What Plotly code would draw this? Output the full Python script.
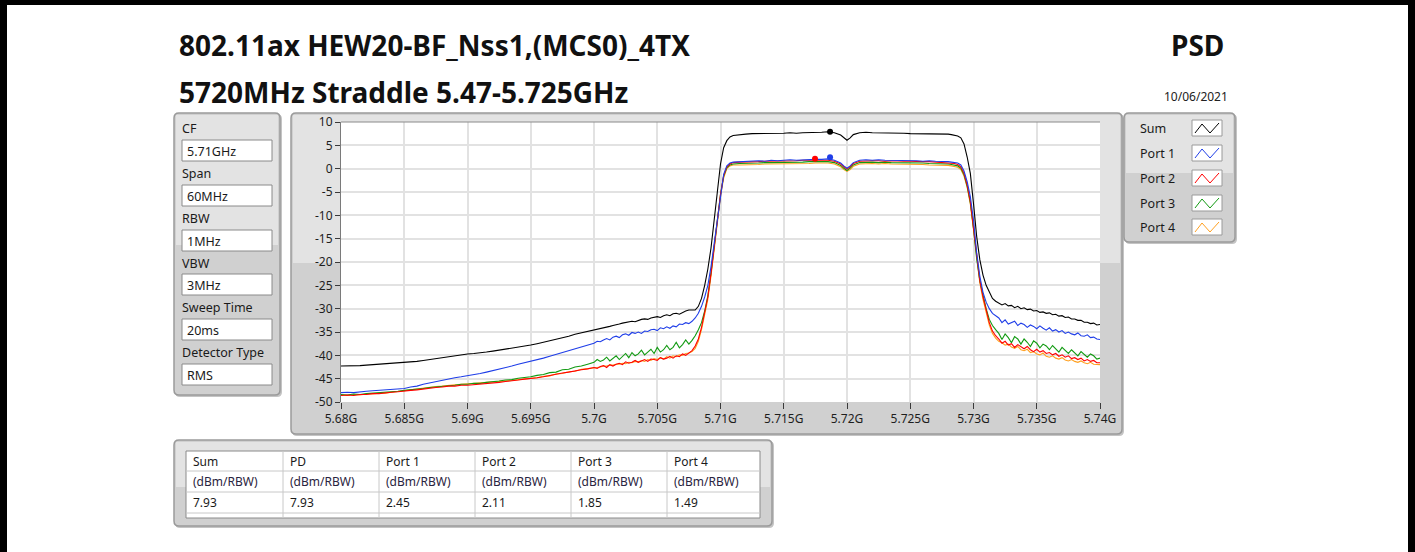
import plotly.graph_objects as go

# ---------------- data ----------------
freq_mhz = [
    5680, 5680.5, 5681, 5681.5, 5682, 5682.5, 5683, 5683.5, 5684, 5684.5,
    5685, 5685.5, 5686, 5686.5, 5687, 5687.5, 5688, 5688.5, 5689, 5689.5,
    5690, 5690.5, 5691, 5691.5, 5692, 5692.5, 5693, 5693.5, 5694, 5694.5,
    5695, 5695.5, 5696, 5696.5, 5697, 5697.5, 5698, 5698.5, 5699, 5699.5,
    5700, 5700.25, 5700.5, 5700.75, 5701, 5701.25, 5701.5, 5701.75,
    5702, 5702.25, 5702.5, 5702.75, 5703, 5703.25, 5703.5, 5703.75,
    5704, 5704.25, 5704.5, 5704.75, 5705, 5705.25, 5705.5, 5705.75,
    5706, 5706.25, 5706.5, 5706.75, 5707, 5707.25, 5707.5, 5707.75,
    5708, 5708.25, 5708.5, 5708.75, 5709, 5709.25, 5709.5, 5709.75,
    5710, 5710.25, 5710.5, 5710.75, 5711, 5711.5,
    5712, 5712.5, 5713, 5713.5, 5714, 5714.5, 5715, 5715.5, 5716, 5716.5,
    5717, 5717.5, 5718, 5718.5, 5719, 5719.5, 5719.75, 5720, 5720.25, 5720.5,
    5721, 5721.5, 5722, 5722.5, 5723, 5723.5, 5724, 5724.5, 5725, 5725.5,
    5726, 5726.5, 5727, 5727.5,
    5728, 5728.25, 5728.5, 5728.75, 5729, 5729.25, 5729.5, 5729.75,
    5730, 5730.25, 5730.5, 5730.75, 5731, 5731.25, 5731.5, 5731.75,
    5732, 5732.25, 5732.5, 5732.75, 5733, 5733.25, 5733.5, 5733.75,
    5734, 5734.25, 5734.5, 5734.75, 5735, 5735.25, 5735.5, 5735.75,
    5736, 5736.25, 5736.5, 5736.75, 5737, 5737.25, 5737.5, 5737.75,
    5738, 5738.25, 5738.5, 5738.75, 5739, 5739.25, 5739.5, 5739.75, 5740,
]

sum_dbm = [
    -42.3, -42.3, -42.2, -42.2, -42.1, -42.0, -41.9, -41.9, -41.8, -41.7,
    -41.6, -41.4, -41.3, -41.1, -40.9, -40.7, -40.5, -40.3, -40.1, -39.8,
    -39.7, -39.6, -39.5, -39.3, -39.1, -38.9, -38.7, -38.5, -38.2, -38.0,
    -37.8, -37.5, -37.2, -36.9, -36.6, -36.2, -35.9, -35.5, -35.2, -34.9,
    -34.7, -34.5, -34.3, -34.2, -34.0, -33.8, -33.6, -33.5,
    -33.3, -33.1, -33.0, -32.8, -32.7, -32.8, -32.5, -32.3,
    -32.2, -32.3, -32.0, -31.8, -31.7, -31.9, -31.5, -31.3,
    -31.5, -31.1, -31.0, -31.2, -30.8, -30.5, -30.3, -30.3,
    -30.3, -29.5, -27.8, -25.0, -21.5, -17.0, -11.5, -5.0,
    1.0, 4.5, 6.0, 6.8, 7.1, 7.3,
    7.4, 7.5, 7.5, 7.5, 7.6, 7.6, 7.6, 7.7, 7.6, 7.7,
    7.7, 7.8, 7.8, 7.9, 7.7, 7.2, 6.6, 6.1, 6.6, 7.3,
    7.7, 7.8, 7.7, 7.7, 7.6, 7.7, 7.6, 7.6, 7.5, 7.5,
    7.5, 7.4, 7.5, 7.4,
    7.4, 7.3, 7.2, 7.0, 6.6, 5.3, 2.5, -1.0,
    -7.5, -14.5, -19.5, -22.8, -25.0, -26.6, -27.8, -28.4,
    -28.8, -29.2, -28.9, -29.4, -29.3, -29.8, -29.5, -30.0,
    -29.8, -30.2, -30.1, -30.5, -30.4, -30.8, -30.7, -31.0,
    -30.9, -31.3, -31.2, -31.6, -31.5, -31.9, -31.8, -32.2,
    -32.2, -32.5, -32.5, -32.9, -32.9, -33.2, -33.1, -33.5, -33.4,
]

port1_dbm = [
    -48.0, -47.9, -48.0, -47.8, -47.7, -47.6, -47.5, -47.4, -47.3, -47.2,
    -47.1, -46.8, -46.6, -46.2, -45.9, -45.6, -45.3, -45.0, -44.8, -44.6,
    -44.4, -44.1, -43.9, -43.6, -43.3, -42.9, -42.6, -42.3, -41.9, -41.6,
    -41.3, -41.0, -40.6, -40.2, -39.8, -39.4, -39.0, -38.6, -38.2, -37.8,
    -37.4, -37.0, -37.1, -36.7, -36.4, -36.7, -36.1, -35.9,
    -36.2, -35.6, -35.4, -35.7, -35.1, -35.3, -35.0, -35.3,
    -34.8, -34.9, -34.5, -34.4, -34.7, -34.1, -34.3, -33.9,
    -34.2, -33.7, -33.9, -33.3, -33.4, -33.0, -33.2, -32.7,
    -32.0, -31.0, -29.5, -27.5, -25.0, -21.0, -16.0, -10.0,
    -5.0, -1.2, 0.6, 1.2, 1.4, 1.5,
    1.5, 1.6, 1.7, 1.6, 1.8, 1.7, 1.8, 1.9, 1.8, 1.9,
    1.9, 2.0, 2.0, 2.1, 1.8, 1.2, 0.6, 0.1, 0.6, 1.3,
    1.8, 1.9, 1.8, 1.9, 1.8, 1.8, 1.7, 1.8, 1.7, 1.7,
    1.6, 1.7, 1.6, 1.6,
    1.5, 1.4, 1.3, 1.2, 0.8, -0.5, -2.8, -6.0,
    -11.0, -18.0, -23.0, -26.5, -28.6, -30.0, -31.0, -31.6,
    -32.0, -33.0, -32.4, -33.3, -33.0, -32.7, -33.6, -33.1,
    -33.4, -34.0, -33.5, -33.8, -34.3, -33.7, -34.2, -34.6,
    -34.1, -34.8, -34.5, -35.0, -34.7, -35.3, -35.0, -35.4,
    -35.6, -35.2, -35.8, -35.9, -35.6, -36.2, -36.1, -36.5, -36.6,
]

port2_dbm = [
    -48.6, -48.5, -48.6, -48.4, -48.4, -48.2, -48.2, -48.0, -47.9, -47.8,
    -47.6, -47.5, -47.4, -47.2, -47.1, -46.9, -46.8, -46.6, -46.6, -46.4,
    -46.4, -46.3, -46.2, -46.0, -45.9, -45.8, -45.6, -45.5, -45.3, -45.1,
    -45.0, -44.8, -44.6, -44.3, -44.1, -43.8, -43.6, -43.3, -43.1, -42.9,
    -42.6, -42.8, -42.4, -42.2, -42.6, -42.0, -42.3, -41.9,
    -41.7, -42.0, -41.4, -41.7, -41.5, -41.1, -41.5, -41.2,
    -40.9, -41.3, -40.8, -40.9, -41.1, -40.5, -40.8, -40.6,
    -40.2, -40.6, -40.1, -40.3, -39.7, -40.0, -39.4, -39.0,
    -38.0, -36.5, -34.0, -31.0, -27.5, -22.5, -17.0, -11.5,
    -5.5, -1.5, 0.4, 1.0, 1.3, 1.4,
    1.4, 1.5, 1.5, 1.6, 1.6, 1.6, 1.7, 1.7, 1.7, 1.8,
    1.8, 1.9, 1.8, 1.8, 1.6, 1.0, 0.4, -0.1, 0.4, 1.1,
    1.6, 1.7, 1.7, 1.7, 1.6, 1.7, 1.6, 1.6, 1.6, 1.5,
    1.5, 1.5, 1.4, 1.4,
    1.3, 1.2, 1.1, 0.9, 0.4, -1.0, -3.5, -7.0,
    -12.5, -19.0, -24.0, -27.5, -30.5, -33.0, -34.8, -35.8,
    -36.5, -37.4, -37.0, -37.8, -37.5, -38.3, -37.7, -38.2,
    -38.6, -38.1, -38.8, -39.2, -38.7, -39.3, -39.0, -39.6,
    -39.4, -39.9, -39.6, -40.2, -39.9, -40.4, -40.1, -40.7,
    -40.5, -40.9, -40.6, -41.2, -40.9, -41.3, -41.1, -41.6, -41.6,
]

port3_dbm = [
    -48.4, -48.5, -48.3, -48.4, -48.2, -48.1, -48.1, -47.9, -47.8, -47.7,
    -47.5, -47.4, -47.2, -47.1, -46.9, -46.8, -46.6, -46.5, -46.4, -46.2,
    -46.2, -46.0, -46.0, -45.8, -45.7, -45.5, -45.3, -45.2, -44.9, -44.8,
    -44.6, -44.3, -44.1, -43.7, -43.6, -43.1, -43.0, -42.5, -42.3, -41.9,
    -41.5, -40.9, -41.3, -41.0, -40.4, -41.2, -40.6, -40.1,
    -40.9, -40.3, -39.6, -40.5, -39.4, -40.1, -39.7, -38.9,
    -39.9, -39.3, -38.7, -39.6, -38.3, -39.3, -38.8, -37.9,
    -38.8, -38.3, -37.2, -38.4, -37.7, -36.7, -37.6, -36.8,
    -35.8, -34.5, -33.0, -30.5, -27.2, -22.3, -16.8, -11.2,
    -5.5, -1.6, 0.2, 0.8, 1.0, 1.1,
    1.1, 1.2, 1.2, 1.3, 1.3, 1.3, 1.4, 1.3, 1.4, 1.4,
    1.5, 1.5, 1.5, 1.5, 1.3, 0.7, 0.1, -0.4, 0.1, 0.8,
    1.3, 1.4, 1.4, 1.3, 1.4, 1.3, 1.3, 1.3, 1.2, 1.2,
    1.2, 1.1, 1.1, 1.0,
    1.0, 0.9, 0.8, 0.6, 0.1, -1.3, -3.8, -7.3,
    -12.8, -19.3, -24.0, -27.3, -30.0, -32.3, -33.6, -34.5,
    -35.3, -36.6, -35.4, -36.2, -37.3, -36.0, -36.5, -37.6,
    -36.5, -37.2, -38.1, -36.9, -37.4, -38.4, -37.6, -38.0,
    -38.8, -37.9, -38.6, -39.3, -38.3, -39.0, -39.6, -38.8,
    -39.4, -40.1, -39.2, -39.8, -40.4, -39.7, -40.1, -40.8, -40.6,
]

port4_dbm = [
    -48.5, -48.6, -48.4, -48.5, -48.3, -48.3, -48.1, -48.1, -47.9, -47.8,
    -47.6, -47.4, -47.2, -47.0, -46.9, -46.7, -46.6, -46.4, -46.3, -46.2,
    -46.1, -46.1, -45.9, -45.9, -45.7, -45.7, -45.5, -45.4, -45.2, -45.1,
    -44.9, -44.8, -44.5, -44.4, -44.0, -43.9, -43.5, -43.4, -43.0, -42.9,
    -42.7, -42.6, -42.5, -42.3, -42.3, -42.1, -42.1, -41.9,
    -41.9, -41.7, -41.8, -41.5, -41.6, -41.3, -41.4, -41.1,
    -41.3, -40.9, -41.1, -40.7, -40.9, -40.5, -40.8, -40.3,
    -40.6, -40.1, -40.3, -39.9, -40.0, -39.6, -39.5, -39.2,
    -38.5, -37.0, -34.5, -31.5, -28.0, -23.0, -17.5, -12.0,
    -6.0, -2.0, 0.0, 0.6, 0.8, 0.8,
    0.8, 0.9, 0.9, 1.0, 1.0, 1.0, 1.1, 1.0, 1.1, 1.1,
    1.1, 1.2, 1.2, 1.2, 1.0, 0.4, -0.2, -0.6, -0.2, 0.5,
    1.0, 1.1, 1.1, 1.0, 1.1, 1.0, 1.0, 1.0, 0.9, 0.9,
    0.9, 0.8, 0.8, 0.7,
    0.7, 0.6, 0.5, 0.3, -0.2, -1.6, -4.0, -7.6,
    -13.0, -19.5, -24.5, -28.0, -31.0, -33.5, -35.3, -36.3,
    -37.0, -37.3, -37.8, -37.6, -38.2, -38.5, -38.1, -38.8,
    -39.0, -38.7, -39.4, -39.2, -39.7, -39.9, -39.5, -40.2,
    -40.4, -40.1, -40.6, -40.8, -40.5, -41.0, -41.2, -40.9,
    -41.3, -41.5, -41.2, -41.6, -41.8, -41.5, -41.9, -42.0, -42.0,
]

series_names = ["Sum", "Port 1", "Port 2", "Port 3", "Port 4"]
series_colors = ["#000000", "#1f3ee8", "#ff0000", "#119a11", "#ffa020"]

table_headers = ["Sum", "PD", "Port 1", "Port 2", "Port 3", "Port 4"]
table_units = ["(dBm/RBW)", "(dBm/RBW)", "(dBm/RBW)", "(dBm/RBW)", "(dBm/RBW)", "(dBm/RBW)"]
table_values = ["7.93", "7.93", "2.45", "2.11", "1.85", "1.49"]

marker_names = ["Sum", "Port 1", "Port 2"]
marker_freq_mhz = [5718.66, 5718.66, 5717.47]
marker_values = [7.93, 2.45, 2.11]

settings_labels = ["CF", "Span", "RBW", "VBW", "Sweep Time", "Detector Type"]
settings_values = ["5.71GHz", "60MHz", "1MHz", "3MHz", "20ms", "RMS"]

x_tick_vals = [5.68, 5.685, 5.69, 5.695, 5.7, 5.705, 5.71, 5.715, 5.72, 5.725, 5.73, 5.735, 5.74]
x_tick_text = ["5.68G", "5.685G", "5.69G", "5.695G", "5.7G", "5.705G", "5.71G",
               "5.715G", "5.72G", "5.725G", "5.73G", "5.735G", "5.74G"]
y_tick_vals = [10, 5, 0, -5, -10, -15, -20, -25, -30, -35, -40, -45, -50]
y_tick_text = ["10", "5", "0", "-5", "-10", "-15", "-20", "-25", "-30", "-35", "-40", "-45", "-50"]

title_1 = "802.11ax HEW20-BF_Nss1,(MCS0)_4TX"
title_2 = "5720MHz Straddle 5.47-5.725GHz"
title_right = "PSD"
date_text = "10/06/2021"

all_series = [sum_dbm, port1_dbm, port2_dbm, port3_dbm, port4_dbm]
for s in all_series:
    assert len(s) == len(freq_mhz), (len(s), len(freq_mhz))

# ---------------- layout helpers (pixel -> paper) ----------------
W, H = 1415, 552
PL, PR, PT, PB = 341, 1100, 122, 402
FONT = "Noto Sans"


def px(X):
    return (X - PL) / (PR - PL)


def py(Y):
    return (PB - Y) / (PB - PT)


shapes = []
annotations = []


def rect(x0, y0, x1, y1, fill, line=None, lw=1):
    shapes.append(dict(type="rect", xref="paper", yref="paper", layer="below",
                       x0=px(x0), x1=px(x1), y0=py(y1), y1=py(y0),
                       fillcolor=fill,
                       line=dict(color=line if line else fill, width=lw if line else 0)))


def hline(x0, x1, y, color, lw=1, layer="below"):
    shapes.append(dict(type="line", xref="paper", yref="paper", layer=layer,
                       x0=px(x0), x1=px(x1), y0=py(y), y1=py(y),
                       line=dict(color=color, width=lw)))


def vline(x, y0, y1, color, lw=1, layer="below"):
    shapes.append(dict(type="line", xref="paper", yref="paper", layer=layer,
                       x0=px(x), x1=px(x), y0=py(y0), y1=py(y1),
                       line=dict(color=color, width=lw)))


def rrect_path(x0, y0, x1, y1, r):
    return (f"M {px(x0 + r)},{py(y0)} L {px(x1 - r)},{py(y0)} "
            f"Q {px(x1)},{py(y0)} {px(x1)},{py(y0 + r)} L {px(x1)},{py(y1 - r)} "
            f"Q {px(x1)},{py(y1)} {px(x1 - r)},{py(y1)} L {px(x0 + r)},{py(y1)} "
            f"Q {px(x0)},{py(y1)} {px(x0)},{py(y1 - r)} L {px(x0)},{py(y0 + r)} "
            f"Q {px(x0)},{py(y0)} {px(x0 + r)},{py(y0)} Z")


def panel(x0, y0, x1, y1, split):
    shapes.append(dict(type="path", xref="paper", yref="paper", layer="below",
                       path=rrect_path(x0 + 1, y0 + 1, x1 + 2, y1 + 2, 5),
                       fillcolor="#c4c4c4", line=dict(width=0)))
    shapes.append(dict(type="path", xref="paper", yref="paper", layer="below",
                       path=rrect_path(x0, y0, x1, y1, 5),
                       fillcolor="#d0d0d0", line=dict(width=0)))
    rect(x0 + 2, y0 + 2, x1 - 2, split, "#e3e3e3")
    shapes.append(dict(type="path", xref="paper", yref="paper", layer="below",
                       path=rrect_path(x0, y0, x1, y1, 5),
                       fillcolor="rgba(0,0,0,0)", line=dict(color="#9a9a9a", width=1.5)))


def text(X, Y, s, size=12, color="#1a1a1a", anchor="left", bold=False):
    annotations.append(dict(x=px(X), y=py(Y), xref="paper", yref="paper", text=s,
                            showarrow=False, xanchor=anchor, yanchor="middle",
                            font=dict(family=FONT, size=size, color=color,
                                      weight="bold" if bold else "normal")))


# ---------------- black page frame ----------------
rect(0, 0, W, 5, "#000000")
shapes.append(dict(type="path", xref="paper", yref="paper", layer="above",
                   path=f"M {px(0)},{py(0)} L {px(7)},{py(0)} L {px(7)},{py(H)} L {px(0)},{py(H)} Z",
                   fillcolor="#000000", line=dict(width=0)))
rect(1408, 0, W, H, "#000000")

# ---------------- titles ----------------
text(177, 45, title_1, size=28, color="#111111", bold=True)
text(177, 92, title_2, size=28, color="#111111", bold=True)
text(1226, 45, title_right, size=28, color="#111111", anchor="right", bold=True)
text(1230, 96, date_text, size=12, color="#222222", anchor="right")

# ---------------- left settings panel ----------------
panel(174, 113, 280, 395, 245)
label_y = [128, 173, 218, 263, 307, 352]
box_y = [140, 185, 230, 274, 319, 364]
for lab, val, ly, by in zip(settings_labels, settings_values, label_y, box_y):
    text(180, ly, lab, size=12.5)
    rect(182, by, 272, by + 21, "#ffffff", line="#8a8a8a", lw=1)
    text(185, by + 11, val, size=12.5)

# ---------------- chart panel ----------------
panel(291, 113, 1122, 434, 263)
rect(PL, PT, PR, PB, "#ffffff")

# ---------------- legend panel ----------------
panel(1124, 113, 1235, 242, 173)
leg_y = [128, 153, 178, 203, 227]
for name, col, ly in zip(series_names, series_colors, leg_y):
    text(1138, ly, name, size=12.5)
    rect(1192, ly - 8, 1222, ly + 8, "#ffffff", line="#9a9a9a", lw=1)
    zz = [(1195, ly + 5), (1202, ly - 4), (1210, ly + 5), (1219, ly - 5)]
    path = "M " + " L ".join(f"{px(a)},{py(b)}" for a, b in zz)
    shapes.append(dict(type="path", xref="paper", yref="paper", layer="below",
                       path=path, line=dict(color=col, width=1)))

# ---------------- table panel ----------------
panel(174, 440, 772, 526, 487)
col_x = [186, 283, 379, 475, 571, 667, 760]
rect(186, 451, 760, 518, "#ffffff", line="#8a8a8a", lw=1)
for yy in [471, 492, 513]:
    hline(186, 760, yy, "#c8c8c8")
for xx in col_x[1:-1]:
    vline(xx, 451, 518, "#c8c8c8")
for i in range(6):
    text(col_x[i] + 5, 461, table_headers[i], size=12)
    text(col_x[i] + 5, 482, table_units[i], size=12, color="#2a2440")
    text(col_x[i] + 5, 502, table_values[i], size=12)

hline(PL, PR, PT, "#8a8a8a", lw=1, layer="above")

# ---------------- traces ----------------
freq_ghz = [f / 1000.0 for f in freq_mhz]
fig = go.Figure()
draw_order = [4, 3, 2, 1, 0]
for i in draw_order:
    fig.add_trace(go.Scatter(x=freq_ghz, y=all_series[i], mode="lines", name=series_names[i],
                             line=dict(color=series_colors[i], width=1.1), showlegend=False,
                             hoverinfo="skip"))
marker_colors = {"Sum": "#000000", "Port 1": "#1f3ee8", "Port 2": "#ff0000"}
for name, f, v in zip(marker_names, marker_freq_mhz, marker_values):
    fig.add_trace(go.Scatter(x=[f / 1000.0], y=[v], mode="markers", showlegend=False,
                             marker=dict(color=marker_colors[name], size=6), hoverinfo="skip"))

fig.update_layout(
    width=W, height=H,
    margin=dict(l=PL, r=W - PR, t=PT, b=H - PB, autoexpand=False),
    paper_bgcolor="#ffffff", plot_bgcolor="rgba(0,0,0,0)",
    shapes=shapes, annotations=annotations, showlegend=False,
    font=dict(family=FONT, size=12, color="#1a1a1a"),
    xaxis=dict(range=[5.68, 5.74], tickvals=x_tick_vals, ticktext=x_tick_text,
               ticks="outside", ticklen=6, tickwidth=1, tickcolor="#3a3a3a",
               showgrid=True, gridcolor="#e2e2e2", gridwidth=2, zeroline=False,
               showline=False, tickfont=dict(family=FONT, size=12, color="#1e1e1e")),
    yaxis=dict(range=[-50, 10], tickvals=y_tick_vals, ticktext=y_tick_text,
               ticks="outside", ticklen=5, tickwidth=1, tickcolor="#3a3a3a",
               showgrid=True, gridcolor="#e2e2e2", gridwidth=2, zeroline=False,
               showline=True, linecolor="#7a7a7a", linewidth=1,
               tickfont=dict(family=FONT, size=12, color="#1e1e1e")),
)

post = ("document.body.style.margin='0px';document.body.style.overflow='hidden';"
        "var d=document.createElement('div');d.style.cssText="
        "'position:fixed;left:0;top:0;width:7px;height:100%;background:#000;z-index:99';"
        "document.body.appendChild(d);")
fig.write_html("out.html", config={"displayModeBar": False}, post_script=post)
